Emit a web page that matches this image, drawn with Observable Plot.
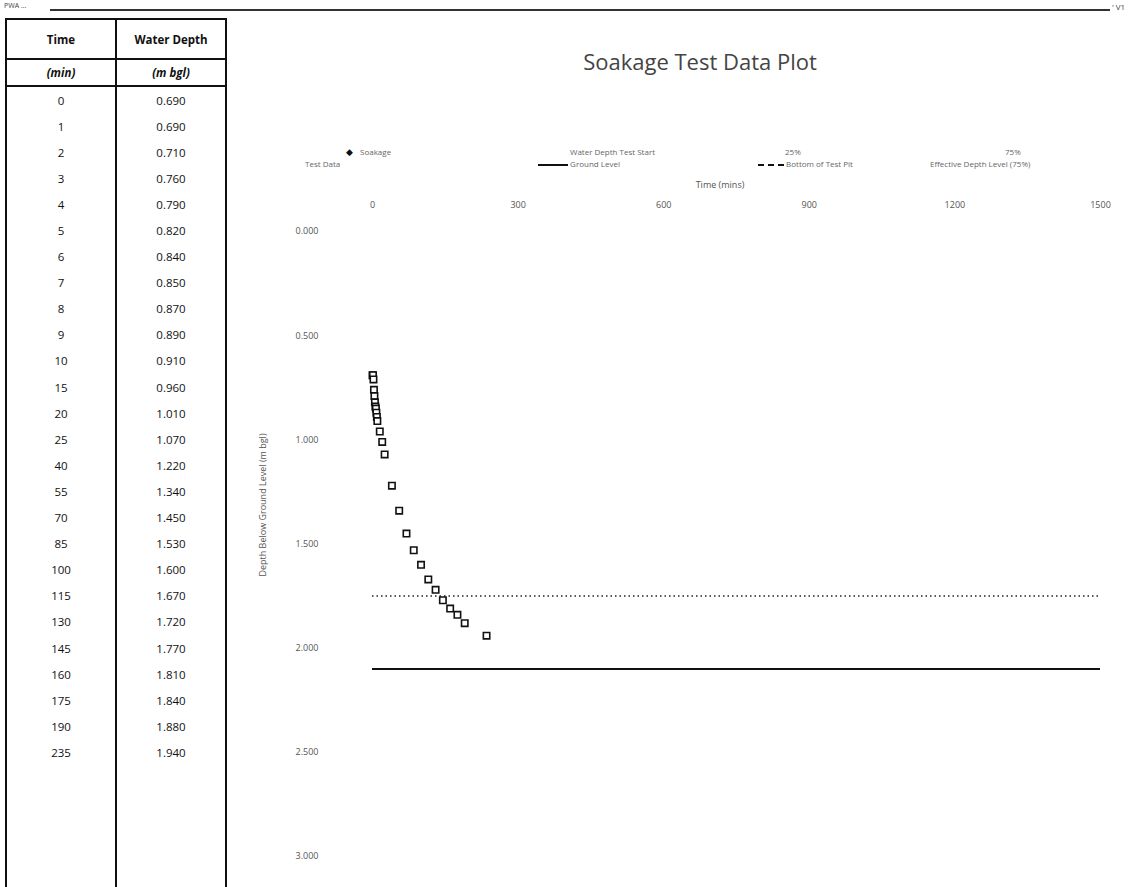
<!DOCTYPE html>
<html>
<head>
<meta charset="utf-8">
<script src="https://cdn.jsdelivr.net/npm/d3@7"></script>
<script src="https://cdn.jsdelivr.net/npm/@observablehq/plot@0.6"></script>
<style>
  html, body { margin: 0; padding: 0; background: #fff; width: 1139px; height: 887px; overflow: hidden; font-family: "Open Sans", Lato, sans-serif; }
  .abs { position: absolute; }
  #topline { left: 50px; top: 9px; width: 1060px; height: 0; border-top: 2px solid #333; }
  #topleft { left: 4px; top: 1px; font-size: 7px; color: #444; }
  #topright { left: 1112px; top: 1px; font-size: 8px; color: #444; }
  #table { left: 5px; top: 18px; border-collapse: collapse; font-size: 11.5px; color: #111; }
  #table td { text-align: center; padding: 0; }
  #table .c1 { width: 108px; border-left: 2px solid #111; border-right: 2px solid #111; }
  #table .c2 { width: 108px; border-right: 2px solid #111; }
  #table tr.h1 td { height: 38px; font-weight: 700; border-top: 2px solid #111; border-bottom: 2px solid #111; }
  #table tr.h2 td { height: 25px; font-weight: 700; font-style: italic; border-bottom: 2px solid #111; }
  #table tr.d td { height: 26.1px; }
  #title { left: 420px; top: 46px; width: 560px; text-align: center; font-size: 22px; color: #444; font-family: "Open Sans", sans-serif; }
  #legend { left: 280px; top: 146px; width: 850px; height: 30px; font-size: 8px; color: #666; }
  .lg { position: absolute; white-space: nowrap; }
  #xlabel { left: 620px; top: 178px; width: 200px; text-align: center; font-size: 9px; color: #555; }
  #ylabel { left: 262px; top: 505px; font-size: 9px; color: #555; transform: translate(-50%, -50%) rotate(-90deg); white-space: nowrap; }
  #chart { left: 240px; top: 175px; }
</style>
</head>
<body>
<div id="topline" class="abs"></div>
<div id="topleft" class="abs">PWA ...</div>
<div id="topright" class="abs">' V1</div>
<table id="table" class="abs"></table>
<div id="title" class="abs">Soakage Test Data Plot</div>
<div id="legend" class="abs"></div>
<div id="xlabel" class="abs">Time (mins)</div>
<div id="ylabel" class="abs">Depth Below Ground Level (m bgl)</div>
<div id="chart" class="abs"></div>
<script>
// ---- Data ----
const times  = [0, 1, 2, 3, 4, 5, 6, 7, 8, 9, 10, 15, 20, 25, 40, 55, 70, 85, 100, 115, 130, 145, 160, 175, 190, 235];
const depths = [0.690, 0.690, 0.710, 0.760, 0.790, 0.820, 0.840, 0.850, 0.870, 0.890, 0.910, 0.960, 1.010, 1.070, 1.220, 1.340, 1.450, 1.530, 1.600, 1.670, 1.720, 1.770, 1.810, 1.840, 1.880, 1.940];
const xTicks = [0, 300, 600, 900, 1200, 1500];
const yTicks = [0, 0.5, 1.0, 1.5, 2.0, 2.5, 3.0];
const level75 = [1.75];      // 75% effective depth level (dotted)
const pitBottom = [2.1];     // bottom of test pit (solid)
const headers = ["Time", "Water Depth"];
const units = ["(min)", "(m bgl)"];
const emptyRows = 5;

// ---- Table ----
const table = document.getElementById("table");
let html = `<tr class="h1"><td class="c1">${headers[0]}</td><td class="c2">${headers[1]}</td></tr>`;
html += `<tr class="h2"><td class="c1">${units[0]}</td><td class="c2">${units[1]}</td></tr>`;
times.forEach((t, i) => {
  html += `<tr class="d"><td class="c1">${t}</td><td class="c2">${depths[i].toFixed(3)}</td></tr>`;
});
for (let i = 0; i < emptyRows; i++) html += `<tr class="d"><td class="c1"></td><td class="c2"></td></tr>`;
table.innerHTML = html;

// ---- Legend ----
const legendItems = [
  {x: 80, y: 0, text: "Soakage"},
  {x: 66, y: -1, html: `<span style="font-size:9px;color:#111">&#9670;</span>`},
  {x: 25, y: 12, text: "Test Data"},
  {x: 290, y: 0, text: "Water Depth Test Start"},
  {x: 258, y: 12, html: `<span style="display:inline-block;width:30px;border-top:2px solid #111;vertical-align:middle"></span> Ground Level`},
  {x: 505, y: 0, text: "25%"},
  {x: 478, y: 12, html: `<span style="display:inline-block;width:26px;border-top:2px dashed #111;vertical-align:middle"></span> Bottom of Test Pit`},
  {x: 725, y: 0, text: "75%"},
  {x: 650, y: 12, text: "Effective Depth Level (75%)"}
];
const lg = document.getElementById("legend");
legendItems.forEach(it => {
  const s = document.createElement("div");
  s.className = "lg";
  s.style.left = it.x + "px";
  s.style.top = it.y + "px";
  if (it.html) s.innerHTML = it.html; else s.textContent = it.text;
  lg.appendChild(s);
});

// ---- Chart ----
const data = times.map((t, i) => ({time: t, depth: depths[i]}));
const chart = Plot.plot({
  width: 890,
  height: 700,
  marginLeft: 132,
  marginRight: 30,
  marginTop: 56,
  marginBottom: 19,
  style: {fontFamily: "Open Sans, sans-serif", fontSize: "9px", color: "#555", background: "transparent"},
  x: {domain: [0, 1500], ticks: xTicks, tickFormat: d3.format("d"), axis: "top", tickSize: 0, tickPadding: 24, label: null},
  y: {domain: [0, 3], reverse: true, ticks: yTicks, tickFormat: d3.format(".3f"), tickSize: 0, tickPadding: 54, label: null},
  marks: [
    Plot.ruleY(level75, {stroke: "#222", strokeWidth: 1.5, strokeDasharray: "1.5,3"}),
    Plot.ruleY(pitBottom, {stroke: "#111", strokeWidth: 2}),
    Plot.dot(data, {x: "time", y: "depth", symbol: "square", r: 3.6, stroke: "#111", strokeWidth: 1.6, fill: "white"})
  ]
});
document.getElementById("chart").appendChild(chart);
</script>
</body>
</html>
